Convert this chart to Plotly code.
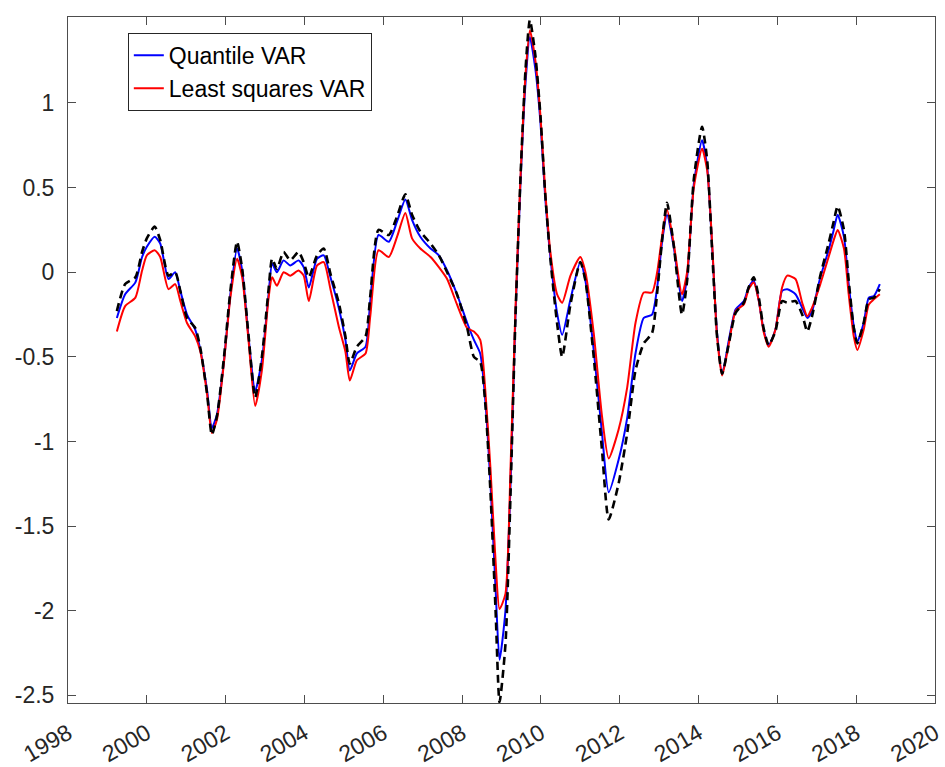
import plotly.graph_objects as go

# Decimal-year time points shared by the three series
years = [
    1999.24, 1999.45, 1999.71, 1999.88, 2000.00, 2000.20, 2000.34, 2000.55, 2000.72, 2000.85,
    2001.02, 2001.23, 2001.36, 2001.53, 2001.65, 2001.78, 2001.95, 2002.12, 2002.29, 2002.42,
    2002.58, 2002.75, 2002.92, 2003.09, 2003.18, 2003.30, 2003.47, 2003.64, 2003.85, 2003.98,
    2004.11, 2004.32, 2004.49, 2004.66, 2004.87, 2005.04, 2005.15, 2005.33, 2005.55, 2005.67,
    2005.88, 2006.14, 2006.35, 2006.56, 2006.73, 2006.94, 2007.20, 2007.41, 2007.62, 2007.87,
    2008.13, 2008.30, 2008.46, 2008.59, 2008.72, 2008.85, 2008.95, 2009.10, 2009.23, 2009.35,
    2009.48, 2009.61, 2009.72, 2009.86, 2009.99, 2010.11, 2010.24, 2010.41, 2010.54, 2010.75,
    2011.00, 2011.13, 2011.34, 2011.55, 2011.72, 2011.97, 2012.19, 2012.40, 2012.61, 2012.82,
    2012.95, 2013.08, 2013.20, 2013.37, 2013.58, 2013.71, 2013.88, 2014.09, 2014.22, 2014.35,
    2014.47, 2014.60, 2014.77, 2014.94, 2015.15, 2015.27, 2015.40, 2015.53, 2015.65, 2015.78,
    2015.95, 2016.12, 2016.25, 2016.46, 2016.63, 2016.76, 2016.88, 2017.09, 2017.30, 2017.43,
    2017.53, 2017.69, 2017.81, 2017.94, 2018.03, 2018.19, 2018.32, 2018.45, 2018.60,
]

quantile_var = [
    -0.27, -0.13, -0.06, 0.09, 0.15, 0.21, 0.17, -0.04, 0.00, -0.11,
    -0.25, -0.34, -0.46, -0.70, -0.92, -0.84, -0.54, -0.13, 0.14, 0.01,
    -0.38, -0.70, -0.52, -0.13, 0.05, 0.00, 0.07, 0.04, 0.07, 0.03,
    -0.09, 0.08, 0.10, -0.03, -0.21, -0.40, -0.58, -0.48, -0.44, -0.17,
    0.22, 0.18, 0.30, 0.43, 0.31, 0.21, 0.14, 0.10, 0.01, -0.13,
    -0.30, -0.40, -0.48, -0.76, -1.25, -1.87, -2.29, -2.00, -1.25, -0.29,
    0.52, 1.12, 1.39, 1.20, 0.88, 0.44, 0.09, -0.24, -0.37, -0.16,
    0.06, -0.05, -0.46, -0.95, -1.30, -1.11, -0.86, -0.48, -0.27, -0.25,
    -0.09, 0.19, 0.34, 0.15, -0.17, -0.03, 0.52, 0.78, 0.62, 0.13,
    -0.36, -0.60, -0.40, -0.22, -0.17, -0.09, -0.05, -0.17, -0.34, -0.43,
    -0.34, -0.11, -0.10, -0.13, -0.21, -0.27, -0.23, -0.03, 0.13, 0.25,
    0.34, 0.21, -0.07, -0.32, -0.41, -0.30, -0.15, -0.14, -0.07,
]

least_squares_var = [
    -0.35, -0.20, -0.15, 0.01, 0.10, 0.13, 0.09, -0.10, -0.07, -0.17,
    -0.30, -0.38, -0.47, -0.72, -0.95, -0.87, -0.55, -0.15, 0.08, -0.03,
    -0.40, -0.79, -0.58, -0.15, -0.03, -0.08, 0.00, -0.02, 0.01, -0.02,
    -0.17, 0.04, 0.06, -0.10, -0.32, -0.47, -0.64, -0.52, -0.48, -0.26,
    0.13, 0.09, 0.21, 0.35, 0.20, 0.14, 0.09, 0.03, -0.04, -0.19,
    -0.33, -0.35, -0.40, -0.70, -1.16, -1.71, -1.99, -1.90, -1.15, -0.25,
    0.55, 1.17, 1.43, 1.25, 0.92, 0.48, 0.12, -0.13, -0.18, -0.02,
    0.09, 0.00, -0.36, -0.85, -1.10, -0.93, -0.68, -0.30, -0.12, -0.12,
    0.00, 0.22, 0.37, 0.17, -0.13, 0.00, 0.50, 0.73, 0.60, 0.15,
    -0.38, -0.61, -0.42, -0.23, -0.19, -0.10, -0.06, -0.17, -0.35, -0.44,
    -0.34, -0.09, -0.02, -0.04, -0.18, -0.26, -0.21, -0.07, 0.09, 0.19,
    0.25, 0.14, -0.13, -0.38, -0.46, -0.34, -0.19, -0.16, -0.13,
]

dashed_series = [
    -0.23, -0.07, -0.03, 0.12, 0.20, 0.27, 0.19, -0.02, 0.00, -0.11,
    -0.27, -0.33, -0.45, -0.72, -0.96, -0.85, -0.52, -0.11, 0.18, 0.02,
    -0.37, -0.74, -0.50, -0.10, 0.08, 0.02, 0.12, 0.07, 0.12, 0.06,
    -0.03, 0.10, 0.14, -0.01, -0.18, -0.38, -0.54, -0.44, -0.38, -0.14,
    0.25, 0.22, 0.33, 0.46, 0.34, 0.24, 0.17, 0.10, 0.00, -0.13,
    -0.33, -0.50, -0.53, -0.78, -1.30, -2.00, -2.54, -2.20, -1.30, -0.30,
    0.55, 1.20, 1.49, 1.28, 0.92, 0.46, 0.08, -0.30, -0.50, -0.19,
    0.06, -0.05, -0.50, -1.05, -1.46, -1.25, -0.95, -0.58, -0.42, -0.36,
    -0.12, 0.20, 0.41, 0.16, -0.25, -0.05, 0.55, 0.86, 0.66, 0.10,
    -0.38, -0.60, -0.42, -0.24, -0.18, -0.09, -0.03, -0.15, -0.33, -0.43,
    -0.35, -0.17, -0.18, -0.17, -0.25, -0.35, -0.26, -0.02, 0.17, 0.30,
    0.39, 0.25, -0.05, -0.33, -0.42, -0.30, -0.16, -0.15, -0.10,
]

series_names = ["Quantile VAR", "Least squares VAR"]

x_ticks = list(range(1998, 2021, 2))
x_tick_labels = [str(v) for v in x_ticks]
y_ticks = [-2.5, -2, -1.5, -1, -0.5, 0, 0.5, 1]
y_tick_labels = ["-2.5", "-2", "-1.5", "-1", "-0.5", "0", "0.5", "1"]

AXIS_COLOR = "#4d4d4d"
TEXT_COLOR = "#262626"
FONT = "Liberation Sans, Arial, sans-serif"

fig = go.Figure()
fig.add_trace(go.Scatter(
    x=years, y=quantile_var, mode="lines", name=series_names[0],
    line=dict(color="#0000ff", width=2, shape="spline", smoothing=0.6),
))
fig.add_trace(go.Scatter(
    x=years, y=least_squares_var, mode="lines", name=series_names[1],
    line=dict(color="#ff0000", width=2, shape="spline", smoothing=0.6),
))
fig.add_trace(go.Scatter(
    x=years, y=dashed_series, mode="lines", showlegend=False,
    line=dict(color="#000000", width=2.6, dash="8px,5px", shape="spline", smoothing=0.6),
))

axis_common = dict(
    showline=True, linecolor=AXIS_COLOR, linewidth=1, mirror="ticks",
    ticks="inside", ticklen=8, tickcolor=AXIS_COLOR, tickwidth=1,
    showgrid=False, zeroline=False, automargin=False,
    tickfont=dict(family=FONT, size=23, color=TEXT_COLOR),
)

fig.update_layout(
    width=945, height=767,
    margin=dict(l=68, r=10, t=17, b=64),
    paper_bgcolor="white", plot_bgcolor="white",
    font=dict(family=FONT, color=TEXT_COLOR),
    xaxis=dict(range=[1998, 2020], tickmode="array", tickvals=x_ticks, ticktext=x_tick_labels,
               tickangle=-30, ticklabelstandoff=7, **axis_common),
    yaxis=dict(range=[-2.545, 1.508], tickmode="array", tickvals=y_ticks, ticktext=y_tick_labels,
               ticklabelstandoff=8, **axis_common),
    legend=dict(x=0.069, y=0.977, xanchor="left", yanchor="top",
                bgcolor="white", bordercolor=TEXT_COLOR, borderwidth=1,
                font=dict(family=FONT, size=23, color="#000000")),
    showlegend=True,
)

fig.write_html("out.html")
